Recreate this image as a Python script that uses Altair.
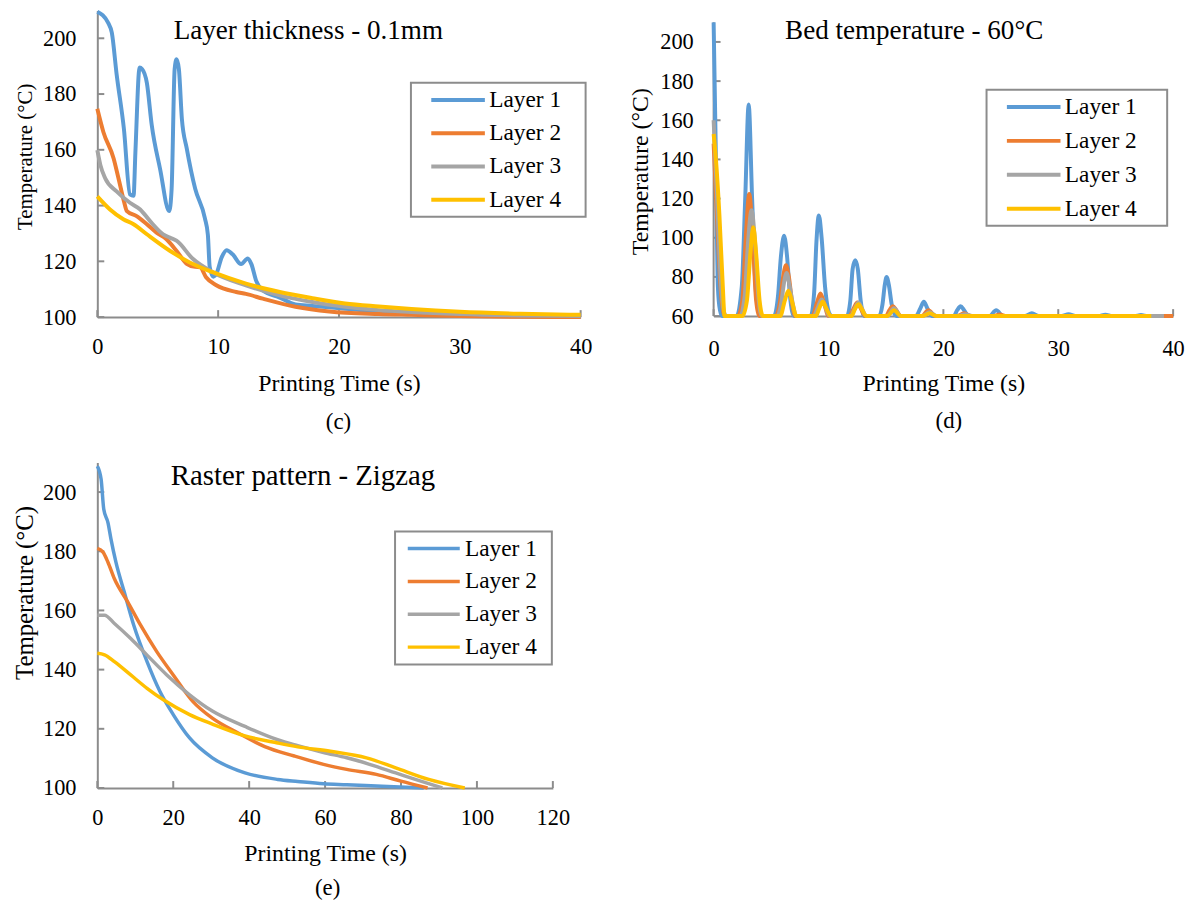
import altair as alt
import pandas as pd

FONT = "Liberation Serif"
LAYERS = ["Layer 1", "Layer 2", "Layer 3", "Layer 4"]
COLORS = ["#5B9BD5", "#ED7D31", "#A5A5A5", "#FFC000"]
AXIS_GRAY = "#8c8c8c"

# ---------------- panel (c): Layer thickness - 0.1mm ----------------
c_title = "Layer thickness - 0.1mm"
c_caption = "(c)"
c_x_ticks = [0, 10, 20, 30, 40]
c_y_ticks = [100, 120, 140, 160, 180, 200]
c_l1_t = [0, 0.9, 1.2, 1.6, 2.2, 2.7, 3.0, 3.15, 3.5, 3.7, 4.1, 4.5, 5.2, 5.95, 6.15, 6.4, 6.56, 6.75, 7.0, 7.4,
          8.1, 8.9, 9.15, 9.3, 9.6, 9.85, 10.3, 10.7, 11.2, 11.9, 12.45, 12.75, 13.15, 13.7, 15.1, 16.4, 17.8,
          20.5, 23.3, 26, 30, 35, 40]
c_l1_T = [209.5, 205.5, 202, 187, 167.5, 144, 143.5, 159, 189.5, 189, 184, 169, 153, 138, 146, 189, 192.5, 189, 171,
          160.5, 146, 135.5, 129.5, 118, 114.5, 115.5, 121.5, 124, 122.5, 119, 121, 119, 113, 109.5, 107, 104.5,
          104, 103, 102, 101.3, 100.6, 100.3, 100.1]
c_l2_t = [0, 0.5, 1.35, 1.75, 2.2, 2.45, 3.25, 4.1, 4.9, 5.7, 6.55, 7.4, 8.1, 8.5, 9.0, 9.85, 11.5, 12.3, 13.7,
          16.4, 19.2, 23.3, 26, 30, 35, 40]
c_l2_T = [174.7, 166.4, 156.9, 149.8, 141.6, 138, 136.2, 133.3, 130.3, 128, 123.8, 119.1, 118, 117.9, 114.3,
          111.4, 109, 108.3, 106.6, 103.7, 102, 101.1, 100.8, 100.4, 100.1, 100]
c_l3_t = [0, 0.25, 0.65, 1.6, 2.7, 3.55, 4.35, 5.45, 6.0, 6.55, 7.9, 9.55, 12.3, 15.1, 17.8, 20.5, 23.3, 26, 30,
          35, 40]
c_l3_T = [159.9, 154.6, 149.8, 145.1, 141, 138.6, 134.5, 129.7, 128.5, 127.4, 120.9, 116.1, 111.4, 107.8, 105.4,
          103.7, 102.5, 101.8, 101.1, 100.6, 100.4]
c_l4_t = [0, 1.05, 2.15, 3.0, 4.1, 6.0, 7.65, 9.55, 12.3, 15.1, 17.8, 20.5, 23.3, 26, 30, 35, 40]
c_l4_T = [143.3, 138.6, 135.1, 133.3, 129.7, 123.8, 119.6, 116.1, 112, 109, 106.8, 104.9, 103.8, 102.9, 101.9,
          101.2, 100.8]

# ---------------- panel (d): Bed temperature - 60°C ----------------
d_title = "Bed temperature - 60°C"
d_caption = "(d)"
d_x_ticks = [0, 10, 20, 30, 40]
d_y_ticks = [60, 80, 100, 120, 140, 160, 180, 200]
d_y_axis_line = [60, 210]
d_l1_t = [0, 0.2, 0.37, 0.55, 0.75, 2.0, 2.45, 2.75, 3.05, 3.35, 3.65, 4.0, 4.2, 5.25, 5.6, 5.85, 6.13, 6.4, 6.65,
          7.0, 8.45, 8.75, 8.95, 9.16, 9.4, 9.7, 10.1, 10.3, 11.6, 11.9, 12.1, 12.33, 12.55, 12.8, 13.1, 14.4, 14.7,
          14.9, 15.06, 15.25, 15.5, 15.9, 17.6, 18.0, 18.3, 18.6, 19.0, 20.9, 21.2, 21.5, 21.8, 22.2, 24.0, 24.6,
          25.2, 27.1, 27.7, 28.3, 30.3, 30.9, 31.5, 33.5, 34.1, 34.7, 36.6, 37.2, 37.8, 38.1]
d_l1_T = [210, 140, 75, 63, 60, 60, 75, 120, 168, 120, 75, 61, 60, 60, 70, 90, 101, 90, 70, 60, 60, 72, 98, 111.4,
          100, 75, 61, 60, 60, 68, 84, 88.5, 84, 68, 60, 60, 66, 76, 80, 76, 66, 60, 60, 64, 67.3, 64, 60, 60, 63,
          65, 63, 60, 60, 63, 60, 60, 61.5, 60, 60, 61, 60, 60, 60.7, 60, 60, 60.5, 60, 60]
d_l2_t = [0, 0.3, 0.6, 0.9, 1.1, 2.1, 2.5, 2.8, 3.1, 3.4, 3.7, 4.0, 5.4, 5.8, 6.05, 6.3, 6.55, 6.85, 7.1, 8.6, 9.0,
          9.3, 9.6, 10.0, 11.8, 12.2, 12.5, 12.8, 13.2, 15.0, 15.3, 15.6, 15.9, 16.3, 18.1, 18.7, 19.3, 21.2, 21.8,
          22.4, 24.3, 24.9, 25.5, 40]
d_l2_T = [148, 110, 75, 61, 60, 60, 68, 100, 122.4, 100, 68, 60, 60, 68, 80, 86, 80, 66, 60, 60, 67, 71.5, 67, 60,
          60, 64, 67, 64, 60, 60, 63, 65, 63, 60, 60, 63, 60, 60, 61.5, 60, 60, 60.8, 60, 60]
d_l3_t = [0, 0.3, 0.6, 0.9, 1.1, 2.3, 2.7, 3.0, 3.3, 3.6, 3.9, 4.2, 5.5, 5.9, 6.1, 6.35, 6.6, 6.9, 7.2, 8.7, 9.1,
          9.4, 9.7, 10.1, 11.9, 12.3, 12.6, 12.9, 13.3, 15.1, 15.7, 16.3, 18.2, 18.8, 19.4, 21.3, 21.9, 22.5, 39.2]
d_l3_T = [160, 120, 80, 62, 60, 60, 70, 98, 114, 98, 70, 60, 60, 67, 76, 82, 76, 66, 60, 60, 65, 68.5, 65, 60, 60,
          64, 67, 64, 60, 60, 64, 60, 60, 62, 60, 60, 61, 60, 60]
d_l4_t = [0, 0.2, 0.5, 0.8, 0.95, 2.5, 2.9, 3.2, 3.45, 3.7, 4.0, 4.3, 5.8, 6.2, 6.5, 6.8, 7.2, 8.9, 9.2, 9.5, 9.8,
          10.2, 12.0, 12.3, 12.6, 12.9, 13.3, 15.1, 15.7, 16.3, 18.2, 18.8, 19.4, 38.1]
d_l4_T = [153, 140, 112, 75, 60, 60, 68, 92, 105.4, 92, 68, 60, 60, 68, 73, 68, 60, 60, 64, 67.3, 64, 60, 60, 63.5,
          66, 63.5, 60, 60, 63, 60, 60, 61.5, 60, 60]

# ---------------- panel (e): Raster pattern - Zigzag ----------------
e_title = "Raster pattern - Zigzag"
e_caption = "(e)"
e_x_ticks = [0, 20, 40, 60, 80, 100, 120]
e_y_ticks = [100, 120, 140, 160, 180, 200]
e_l1_t = [0, 1.0, 1.7, 2.8, 3.6, 4.9, 7.1, 9.6, 13.1, 16.5, 20, 24.3, 30.3, 38.9, 47.5, 52.8, 59.6, 65.7, 75, 86]
e_l1_T = [208.8, 204.3, 194.2, 189.7, 184.1, 176.3, 166.2, 155, 142.7, 132.6, 124.8, 116.9, 110.2, 105.1, 102.9,
          102.2, 101.4, 101.1, 100.6, 100]
e_l2_t = [0, 1.5, 2.8, 4.5, 8, 11.4, 15.7, 20, 25.2, 30.3, 37.2, 44.1, 51.9, 59.6, 65.7, 73.5, 80, 87]
e_l2_T = [181, 179.7, 176.3, 170.7, 162.9, 155, 146, 138.2, 129.2, 123.6, 118.5, 114, 110.8, 108, 106.3, 104.6,
          102.3, 100]
e_l3_t = [0, 1.9, 4.5, 8.8, 13.1, 18.3, 24.3, 30.3, 38.9, 47.5, 52.8, 59.6, 65.7, 71.7, 78.6, 85, 90.9]
e_l3_T = [158.4, 158.4, 155.6, 150.5, 144.9, 138.2, 131.5, 126, 120.8, 116.3, 114.3, 112, 110.2, 108, 105.1,
          102.4, 100]
e_l4_t = [0, 1.9, 4.5, 8.8, 13.1, 17.4, 24.3, 30.3, 38.9, 47.5, 52.8, 61.4, 70.9, 78.6, 87.3, 96.8]
e_l4_T = [145.5, 145, 142.7, 138.2, 133.7, 129.8, 124.8, 121.6, 117.6, 115.2, 113.9, 112.4, 110.2, 106.8, 102.9, 100]


def frame(series):
    rows = []
    for name, (ts, vs) in zip(LAYERS, series):
        assert len(ts) == len(vs), name
        for t, v in zip(ts, vs):
            rows.append({"t": t, "T": v, "layer": name})
    return pd.DataFrame(rows)


def panel(df, w, h, xdom, ydom, xticks, yticks, title, tx, ty, tsize, caption, cx, cy,
          ytitle_size, ytitle_y, ylabel_pad, ytitle_pad, xlabel_pad, xtitle_pad, sw, leg, yline=None):
    # legend symbol: a short horizontal stroke; the trailing move-to widens the framed box on the right
    color = alt.Color(
        "layer:N",
        scale=alt.Scale(domain=LAYERS, range=COLORS),
        legend=alt.Legend(
            title=None, orient="none", legendX=leg["x"], legendY=leg["y"],
            symbolType=f"M-3,0L3,0M{leg['ext']},0", symbolSize=leg["size"], symbolStrokeWidth=leg["sw"],
            symbolOffset=leg["soff"], labelOffset=leg["loff"], labelFont=FONT, labelFontSize=23.5,
            labelColor="black", padding=5.5, rowPadding=leg["rp"], strokeColor=AXIS_GRAY,
            fillColor="white", labelLimit=400,
        ),
    )
    xs = alt.Scale(domain=xdom, nice=False)
    ys = alt.Scale(domain=ydom, nice=False, zero=False)
    xa = alt.Axis(values=xticks, title="Printing Time (s)", titleFontSize=24, ticks=False,
                  labelPadding=xlabel_pad, titlePadding=xtitle_pad)
    ya = alt.Axis(values=yticks, title="Temperature (°C)", titleFontSize=ytitle_size, ticks=False,
                  labelPadding=ylabel_pad, titlePadding=ytitle_pad, titleY=ytitle_y, domain=yline is None)
    lines = alt.Chart(df).mark_line(strokeWidth=sw, interpolate="monotone").encode(
        x=alt.X("t:Q", scale=xs, axis=xa),
        y=alt.Y("T:Q", scale=ys, axis=ya),
        color=color,
    )
    # inward tick marks (Excel style)
    yt = alt.Chart(pd.DataFrame({"T": yticks})).mark_rule(color=AXIS_GRAY, strokeWidth=2).encode(
        y=alt.Y("T:Q", scale=ys, axis=ya), x=alt.value(0), x2=alt.value(7))
    xt = alt.Chart(pd.DataFrame({"t": xticks})).mark_rule(color=AXIS_GRAY, strokeWidth=2).encode(
        x=alt.X("t:Q", scale=xs, axis=xa), y=alt.value(h), y2=alt.value(h - 7))
    layers = [yt, xt]
    if yline is not None:
        yl = alt.Chart(pd.DataFrame({"T": [yline[0]], "T2": [yline[1]]})).mark_rule(
            color=AXIS_GRAY, strokeWidth=2).encode(
            y=alt.Y("T:Q", scale=ys, axis=ya), y2="T2:Q", x=alt.value(0))
        layers.append(yl)
    ttl = alt.Chart(pd.DataFrame({"label": [title]})).mark_text(
        font=FONT, fontSize=tsize, align="left", baseline="alphabetic", color="black"
    ).encode(text="label:N", x=alt.value(tx), y=alt.value(ty))
    cap = alt.Chart(pd.DataFrame({"label": [caption]})).mark_text(
        font=FONT, fontSize=23, align="center", baseline="middle", color="black"
    ).encode(text="label:N", x=alt.value(cx), y=alt.value(cy))
    return alt.layer(*layers, lines, ttl, cap).properties(width=w, height=h)


df_c = frame([(c_l1_t, c_l1_T), (c_l2_t, c_l2_T), (c_l3_t, c_l3_T), (c_l4_t, c_l4_T)])
df_d = frame([(d_l1_t, d_l1_T), (d_l2_t, d_l2_T), (d_l3_t, d_l3_T), (d_l4_t, d_l4_T)])
df_e = frame([(e_l1_t, e_l1_T), (e_l2_t, e_l2_T), (e_l3_t, e_l3_T), (e_l4_t, e_l4_T)])

leg_c = dict(x=316, y=73, size=324, sw=4, soff=30.25, loff=19.65, rp=8.5, ext=12.7)
leg_d = dict(x=275, y=80, size=324, sw=4, soff=30.25, loff=19.65, rp=9.2, ext=13.4)
leg_e = dict(x=300, y=69.5, size=305, sw=3.5, soff=21.75, loff=19.75, rp=8.1, ext=12.1)

pc = panel(df_c, 487, 309, [0, 40], [100, 210], c_x_ticks, c_y_ticks, c_title, 77, 29, 27.3,
           c_caption, 243, 414.5, 21, 147, 21.5, 7, 18.5, 14, 4, leg_c)
pd_ = panel(df_d, 463, 308, [0, 40], [60, 216.1], d_x_ticks, d_y_ticks, d_title, 72, 28.5, 27.3,
            d_caption, 237, 414, 24, 162, 20.5, 7, 22, 11, 4, leg_d, yline=d_y_axis_line)
pe = panel(df_e, 459, 328, [0, 120], [100, 210], e_x_ticks, e_y_ticks, e_title, 74, 23, 29,
           e_caption, 232, 429, 25, 131, 21.5, 5, 18.5, 13.5, 3.5, leg_e)

chart = alt.concat(
    pc, pd_, pe, columns=2, spacing={"row": 146.5, "column": 134}, bounds="flush"
).resolve_scale(color="independent").properties(
    padding={"left": 4, "top": -8, "right": 5, "bottom": 5},
    background="white",
).configure_view(strokeWidth=0).configure_axis(
    grid=False, domainColor=AXIS_GRAY, domainWidth=2,
    labelFont=FONT, labelFontSize=22.5, labelColor="black", labelFlush=False,
    titleFont=FONT, titleFontWeight="normal", titleColor="black",
).configure_legend(strokeWidth=2)

chart.save("out.html", embed_options={"renderer": "svg", "actions": False})
